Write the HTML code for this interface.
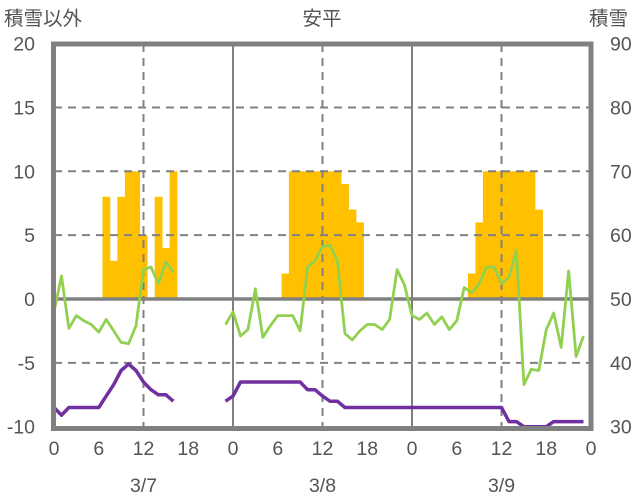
<!DOCTYPE html>
<html><head><meta charset="utf-8"><style>
html,body{margin:0;padding:0;background:#fff}
svg{display:block}
text{font-family:"Liberation Sans","Noto Sans CJK JP",sans-serif;fill:#555;font-size:19.5px}
</style></head><body>
<svg id="s" width="636" height="501" xmlns="http://www.w3.org/2000/svg">
<text x="4" y="25" font-size="20">積雪以外</text>
<text x="322" y="25" text-anchor="middle" font-size="20">安平</text>
<text x="589" y="25" font-size="20">積雪</text>
<g id="g"></g>
</svg>
<script>
var g=document.getElementById('g'),h='';
function X(t){return 54+t*179/24}
function Y(v){return 299-12.77*v}
var bars=[[7,8],[8,3],[9,8],[10,10],[11,10],[12,5],[14,8],[15,4],[16,10],
[31,2],[32,10],[33,10],[34,10],[35,10],[36,10],[37,10],[38,10],[39,9],[40,7],[41,6],
[56,2],[57,6],[58,10],[59,10],[60,10],[61,10],[62,10],[63,10],[64,10],[65,7]];
bars.forEach(function(b){var x0=X(b[0]-0.5),x1=X(b[0]+0.5);h+='<rect x="'+x0.toFixed(1)+'" y="'+Y(b[1]).toFixed(1)+'" width="'+(x1-x0+0.3).toFixed(1)+'" height="'+(Y(0)-Y(b[1])).toFixed(1)+'" fill="#FFC000"/>';});
[15,10,5,-5].forEach(function(v){h+='<line x1="54" x2="591" y1="'+Y(v)+'" y2="'+Y(v)+'" stroke="#808080" stroke-width="2" stroke-dasharray="8,6"/>';});
[12,36,60].forEach(function(t){h+='<line x1="'+X(t)+'" x2="'+X(t)+'" y1="44" y2="428" stroke="#808080" stroke-width="2" stroke-dasharray="8,6"/>';});
[24,48].forEach(function(t){h+='<line x1="'+X(t)+'" x2="'+X(t)+'" y1="44" y2="428" stroke="#808080" stroke-width="2"/>';});
h+='<line x1="54" x2="591" y1="299" y2="299" stroke="#808080" stroke-width="3.5"/>';
var gr=[-1,1.8,-2.3,-1.3,-1.7,-2,-2.6,-1.6,-2.5,-3.4,-3.5,-2.1,2.3,2.5,1.2,2.9,2.1];
var gr2=[[23,-2],[24,-1],[25,-2.9],[26,-2.4],[27,0.8],[28,-3],[29,-2.1],[30,-1.3],[31,-1.3],[32,-1.3],[33,-2.5],[34,2.5],[35,3],[36,4.1],[37,4.2],[38,3],[39,-2.7],[40,-3.2],[41,-2.5],[42,-2],[43,-2],[44,-2.4],[45,-1.6],[46,2.3],[47,1.1],
[48,-1.3],[49,-1.6],[50,-1.1],[51,-2],[52,-1.4],[53,-2.4],[54,-1.7],[55,0.9],[56,0.5],[57,1.2],[58,2.5],[59,2.5],[60,1.2],[61,1.7],[62,3.8],[63,-6.7],[64,-5.5],[65,-5.6],[66,-2.4],[67,-1.1],[68,-3.8],[69,2.2],[70,-4.5],[71,-2.9]];
function pl(pts,c,w){h+='<polyline fill="none" stroke="'+c+'" stroke-width="'+w+'" stroke-linejoin="round" points="'+pts.map(function(p){return X(p[0]).toFixed(1)+','+Y(p[1]).toFixed(1)}).join(' ')+'"/>';}
pl(gr.map(function(v,i){return [i,v]}),'#92D050',2.8);
pl(gr2,'#92D050',2.8);
var pu=[-8.5,-9.1,-8.5,-8.5,-8.5,-8.5,-8.5,-7.6,-6.7,-5.6,-5.1,-5.6,-6.5,-7.1,-7.5,-7.5,-8];
pl(pu.map(function(v,i){return [i,v]}),'#7030A0',3.5);
var pu2=[[23,-8],[24,-7.6],[25,-6.5],[33,-6.5],[34,-7.1],[35,-7.1],[36,-7.6],[37,-8],[38,-8],[39,-8.5],[60,-8.5],[61,-9.6],[62,-9.6],[63,-10],[66,-10],[67,-9.6],[71,-9.6]];
pl(pu2,'#7030A0',3.5);
h+='<rect x="53.5" y="44" width="537.5" height="384.5" fill="none" stroke="#808080" stroke-width="5"/>';
[20,15,10,5,0,-5,-10].forEach(function(v){h+='<text x="35" y="'+(Y(v)+7)+'" text-anchor="end">'+v+'</text>';});
[90,80,70,60,50,40,30].forEach(function(v,i){h+='<text x="610" y="'+(Y(20-5*i)+7)+'">'+v+'</text>';});
var xl=['0','6','12','18','0','6','12','18','0','6','12','18','0'];
xl.forEach(function(s,i){h+='<text x="'+X(i*6)+'" y="455" text-anchor="middle">'+s+'</text>';});
['3/7','3/8','3/9'].forEach(function(s,i){h+='<text x="'+X(12+24*i)+'" y="492" text-anchor="middle">'+s+'</text>';});
g.innerHTML=h;
</script>
</body></html>
